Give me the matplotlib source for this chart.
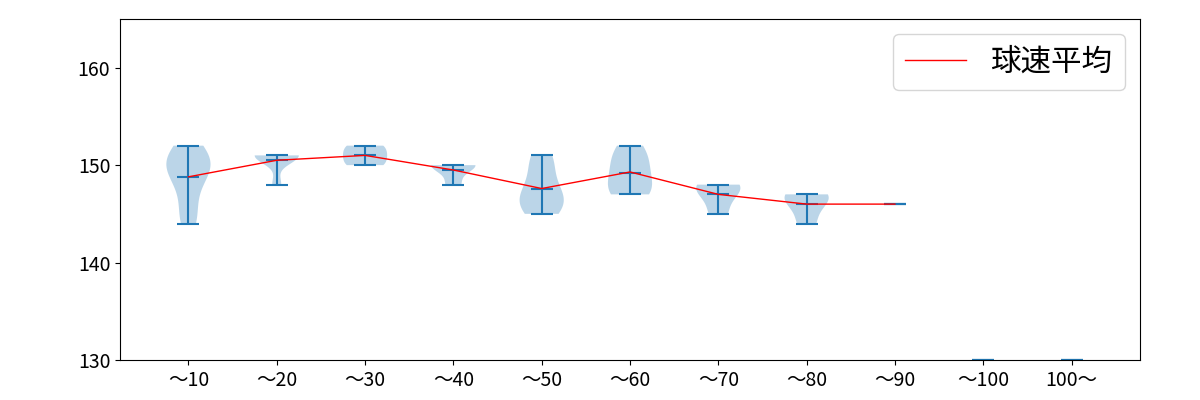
import matplotlib
matplotlib.use("Agg")
import matplotlib.pyplot as plt

plt.rcParams["font.family"] = ["Noto Sans CJK JP", "DejaVu Sans"]

LABELS = ["〜10", "〜20", "〜30", "〜40", "〜50", "〜60", "〜70", "〜80", "〜90", "〜100", "100〜"]

# pitch speeds (km/h) per pitch-count bucket
SPEEDS = [
    [144, 145, 147, 149, 150, 150, 151, 151, 152, 149],
    [148, 151, 151, 151, 151, 151],
    [150, 150, 151, 151, 152, 152],
    [148, 150, 150, 150],
    [145, 146, 146, 147, 148, 150, 151],
    [147, 147, 148, 149, 150, 151, 152],
    [145, 147, 148, 148],
    [144, 146, 147, 147],
    [146],
    [130],
    [130],
]

MEANS = [148.8, 150.5, 151.0, 149.5, 147.6, 149.3, 147.0, 146.0, 146.0]


def plot():
    fig = plt.figure(figsize=(12, 4), dpi=100)
    ax = fig.add_subplot(111)
    fig.subplots_adjust(left=0.1, right=0.95, top=0.9525, bottom=0.1)

    positions = list(range(1, len(SPEEDS) + 1))
    ax.violinplot(SPEEDS, positions=positions, showmeans=True, showextrema=True)
    ax.plot(positions[:len(MEANS)], MEANS, color="red", linewidth=1, label="球速平均")

    ax.set_xticks(positions)
    ax.set_xticklabels(LABELS, fontsize=14)
    ax.set_ylim(130, 165)
    ax.set_yticks([130, 140, 150, 160])
    ax.tick_params(axis="y", labelsize=14)
    ax.legend(loc="upper right", fontsize=22)

    fig.savefig("out.png")


if __name__ == "__main__":
    plot()
